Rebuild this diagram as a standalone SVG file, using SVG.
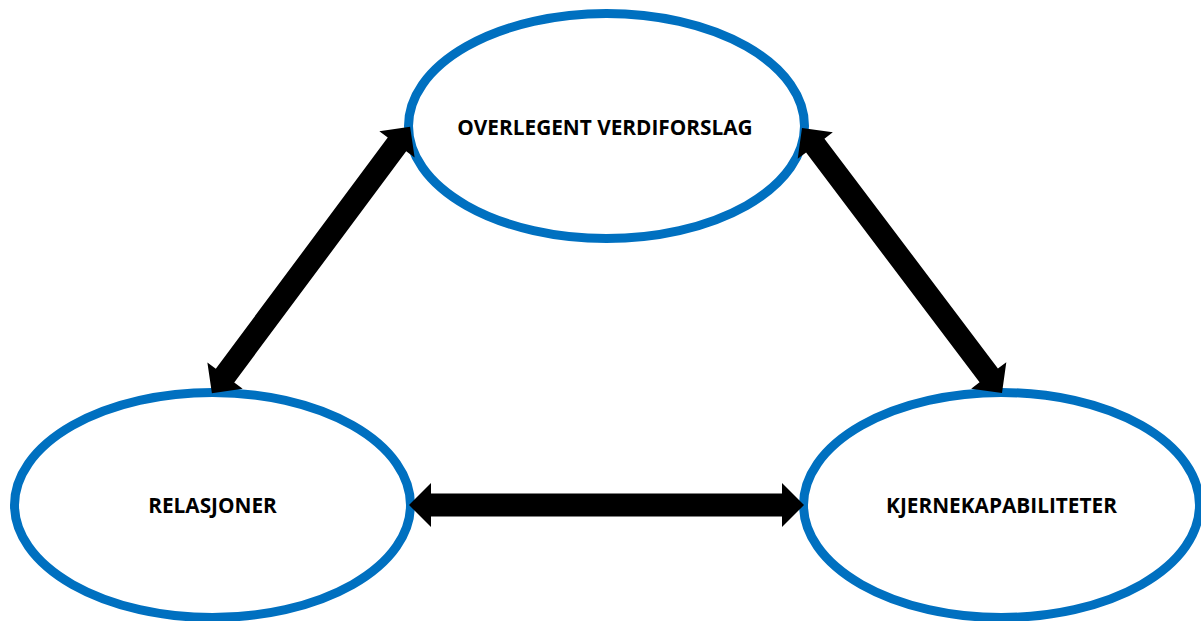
<svg xmlns="http://www.w3.org/2000/svg" width="1201" height="621" viewBox="0 0 1201 621">
<style>
.node ellipse{fill:#fff;stroke:#0070C0;stroke-width:9}
.node text{font-family:"Open Sans","Liberation Sans",sans-serif;font-weight:bold;font-size:20.8px;fill:#000;text-anchor:middle}
.arrow{fill:#000}
</style>
<rect width="1201" height="621" fill="#fff"/>
<g id="node-verdiforslag" class="node">
<ellipse cx="606.5" cy="126" rx="198" ry="112.5"/>
<text x="605" y="135">OVERLEGENT VERDIFORSLAG</text>
</g>
<g id="node-relasjoner" class="node">
<ellipse cx="212.5" cy="505" rx="198" ry="112.5"/>
<text x="212.5" y="513">RELASJONER</text>
</g>
<g id="node-kjernekapabiliteter" class="node">
<ellipse cx="1001.5" cy="505" rx="198" ry="112.5"/>
<text x="1001.5" y="513">KJERNEKAPABILITETER</text>
</g>
<g id="connectors">
<polygon class="arrow" transform="translate(311,260) rotate(-53.34)" points="-166,0 -144,-22 -144,-11.5 144,-11.5 144,-22 166,0 144,22 144,11.5 -144,11.5 -144,22"/>
<polygon class="arrow" transform="translate(902,260.5) rotate(52.96)" points="-166,0 -144,-22 -144,-11.5 144,-11.5 144,-22 166,0 144,22 144,11.5 -144,11.5 -144,22"/>
<polygon class="arrow" points="409,505 431,483 431,493.5 782,493.5 782,483 804,505 782,527 782,516.5 431,516.5 431,527"/>
</g>
</svg>
